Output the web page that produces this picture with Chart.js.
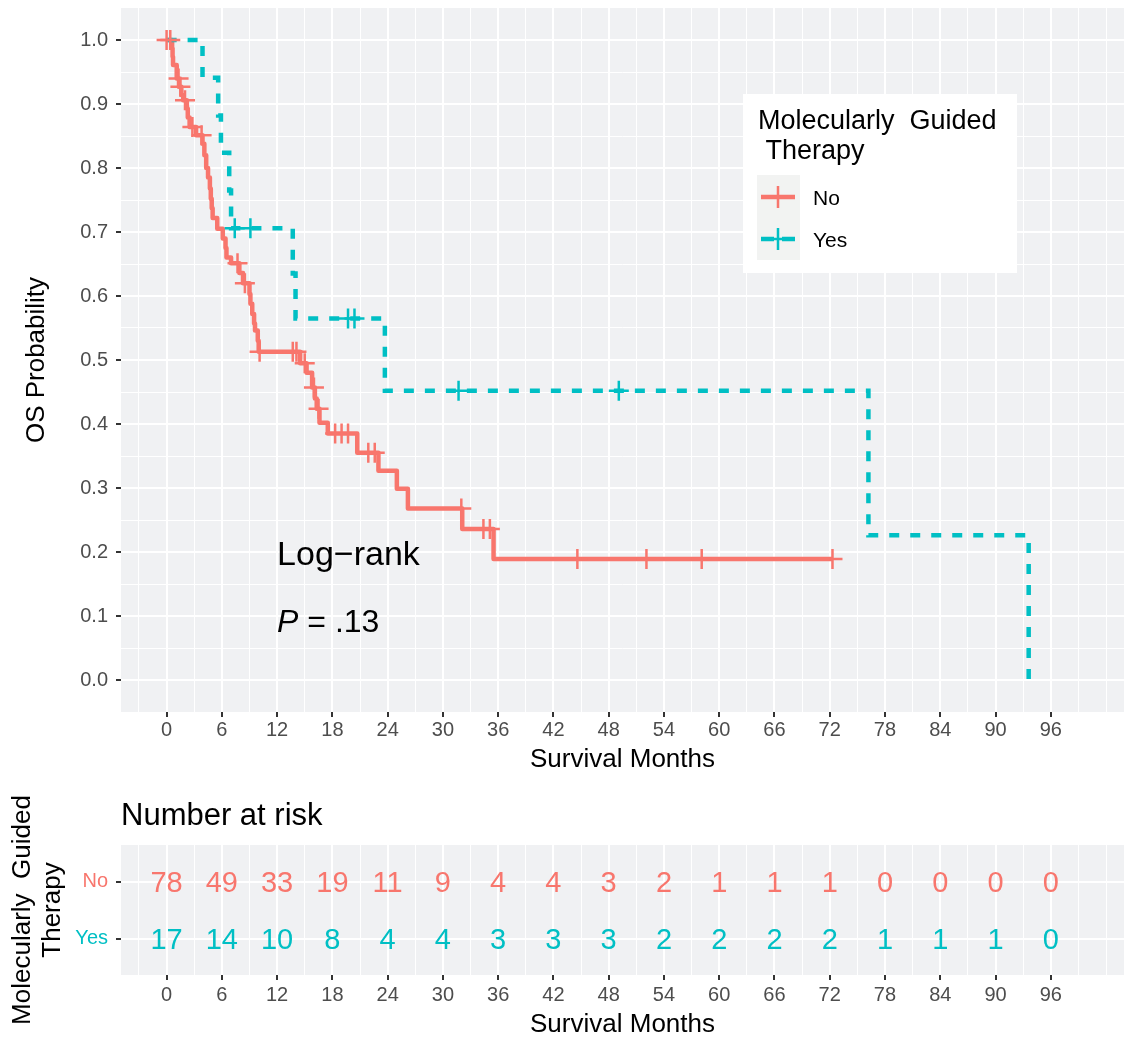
<!DOCTYPE html>
<html>
<head>
<meta charset="utf-8">
<script src="https://cdn.jsdelivr.net/npm/chart.js@4.4.1/dist/chart.umd.min.js"></script>
<style>
  html, body { margin: 0; padding: 0; background: #fff; }
  #wrap { position: relative; width: 1126px; height: 1038px; }
  canvas { position: absolute; left: 0; }
  #kmChart { top: 0; }
  #riskChart { top: 790px; }
</style>
</head>
<body>
<div id="wrap">
  <canvas id="kmChart" width="1126" height="790"></canvas>
  <canvas id="riskChart" width="1126" height="248"></canvas>
</div>
<script>
// Groups
const groupLabels = ['No', 'Yes'];
const groupColors = ['#F8766D', '#00BFC4'];

// KM steps, group "No" (time in months, survival after the step)
const noTimes = [0, 0.6, 0.65, 0.7, 1.1, 1.35, 1.6, 1.8, 2.2, 2.3, 2.5, 3.2, 3.9, 4.1, 4.3, 4.5, 4.7, 4.8, 4.9, 5.0, 5.5,
  6.1, 6.4, 6.5, 7.0, 7.9, 8.3, 9.0, 9.1, 9.3, 9.5, 9.6, 9.9, 10.0, 14.5, 15.2, 15.8, 16.1, 16.3, 16.6, 17.5,
  20.7, 23.0, 25.0, 26.2, 32.1, 35.5, 72.3];
const noSurv = [1.0, 0.987, 0.974, 0.961, 0.94, 0.927, 0.914, 0.906, 0.893, 0.879, 0.864, 0.851, 0.838, 0.82, 0.80, 0.785, 0.768, 0.752, 0.737, 0.722, 0.705,
  0.69, 0.675, 0.66, 0.651, 0.636, 0.62, 0.603, 0.588, 0.572, 0.557, 0.546, 0.53, 0.513, 0.495, 0.48, 0.457, 0.44, 0.424, 0.402, 0.385,
  0.355, 0.327, 0.299, 0.268, 0.236, 0.189, 0.189];
const noCensorTimes = [0.0, 0.4, 1.3, 1.5, 2.0, 2.8, 3.8, 7.7, 8.5, 10.1, 13.7, 14.1, 15.0, 16.0, 16.5, 18.3, 19.0, 19.7,
  21.9, 22.6, 32.0, 34.4, 35.1, 44.6, 52.1, 58.1, 72.3];
const noCensorSurv = [1.0, 1.0, 0.94, 0.927, 0.906, 0.864, 0.851, 0.651, 0.62, 0.513, 0.513, 0.513, 0.495, 0.457, 0.424, 0.385, 0.385, 0.385,
  0.355, 0.355, 0.268, 0.236, 0.236, 0.189, 0.189, 0.189, 0.189];

// KM steps, group "Yes"
const yesTimes = [0, 3.9, 5.6, 5.9, 6.8, 7.0, 13.7, 14.0, 23.7, 76.2, 93.6];
const yesSurv = [1.0, 0.941, 0.882, 0.824, 0.765, 0.706, 0.635, 0.565, 0.452, 0.226, 0.0];
const yesCensorTimes = [7.4, 9.1, 19.7, 20.4, 31.7, 49.1];
const yesCensorSurv = [0.706, 0.706, 0.565, 0.565, 0.452, 0.452];

// Axes
const xTicks = [0, 6, 12, 18, 24, 30, 36, 42, 48, 54, 60, 66, 72, 78, 84, 90, 96];
const yTicks = [0, 0.1, 0.2, 0.3, 0.4, 0.5, 0.6, 0.7, 0.8, 0.9, 1.0];

// Number at risk table
const riskTimes = [0, 6, 12, 18, 24, 30, 36, 42, 48, 54, 60, 66, 72, 78, 84, 90, 96];
const riskNo = [78, 49, 33, 19, 11, 9, 4, 4, 3, 2, 1, 1, 1, 0, 0, 0, 0];
const riskYes = [17, 14, 10, 8, 4, 4, 3, 3, 3, 2, 2, 2, 2, 1, 1, 1, 0];

Chart.defaults.font.family = '"Liberation Sans", Arial, Helvetica, sans-serif';
const FONT = '"Liberation Sans", Arial, Helvetica, sans-serif';
const PANEL = '#F0F1F3';
const TICK_TEXT = '#4D4D4D';
const TICK_MARK = '#333333';

// grid values: majors + ggplot-style minor breaks in between
const xGrid = [-3].concat(...xTicks.map(v => [v, v + 3]), [102]);
const yGrid = [];
yTicks.forEach((v, i) => { yGrid.push(v); if (i < yTicks.length - 1) yGrid.push(Math.round((v + 0.05) * 100) / 100); });
const isMajorX = v => xTicks.includes(v);
const isMajorY = v => yTicks.some(t => Math.abs(t - v) < 1e-9);

const pts = (xs, ys) => xs.map((x, i) => ({ x: x, y: ys[i] }));

// fixed axis box size, no extra label padding around the panel
function fixBox(s, w, h) {
    if (w !== null) s.width = w;
    if (h !== null) s.height = h;
    s.paddingTop = 0;
    s.paddingBottom = 0;
    s.paddingLeft = 0;
    s.paddingRight = 0;
}

const panelBg = {
    id: 'panelBg',
    beforeDraw(chart) {
        const a = chart.chartArea;
        const ctx = chart.ctx;
        ctx.save();
        ctx.fillStyle = PANEL;
        ctx.fillRect(a.left, a.top, a.right - a.left, a.bottom - a.top);
        ctx.restore();
    }
};

function xScaleOpts(height, tickPad, titlePadBottom) {
    return {
        type: 'linear',
        min: -4.95,
        max: 103.95,
        afterBuildTicks: s => { s.ticks = xGrid.map(v => ({ value: v })); },
        afterFit: s => fixBox(s, null, height),
        ticks: {
            autoSkip: false, maxRotation: 0, minRotation: 0, padding: tickPad,
            color: TICK_TEXT, font: { size: 20 },
            callback: v => isMajorX(v) ? String(v) : ''
        },
        grid: {
            color: '#FFFFFF',
            lineWidth: c => isMajorX(c.tick.value) ? 2 : 1,
            tickLength: 5,
            tickWidth: 2,
            tickColor: c => isMajorX(c.tick.value) ? TICK_MARK : 'rgba(0,0,0,0)'
        },
        border: { display: false },
        title: {
            display: true, text: 'Survival Months', color: '#000',
            font: { size: 26, lineHeight: 1 }, padding: { top: 0, bottom: titlePadBottom }
        }
    };
}

// Legend and annotation text for the survival panel
const kmDecor = {
    id: 'kmDecor',
    afterDraw(chart) {
        const ctx = chart.ctx;
        const xs = chart.scales.x, ys = chart.scales.y;
        ctx.save();

        // log-rank annotation
        ctx.fillStyle = '#000';
        ctx.textAlign = 'left';
        ctx.textBaseline = 'alphabetic';
        const ax = xs.getPixelForValue(12);
        ctx.font = '34px ' + FONT;
        ctx.fillText('Log\u2212rank', ax, ys.getPixelForValue(0.18));
        const py = ys.getPixelForValue(0.075);
        ctx.font = 'italic 32px ' + FONT;
        ctx.fillText('P', ax, py);
        const pw = ctx.measureText('P').width;
        ctx.font = '32px ' + FONT;
        ctx.fillText(' = .13', ax + pw, py);

        // legend box
        ctx.fillStyle = '#FFFFFF';
        ctx.fillRect(743, 94, 274, 179);
        ctx.fillStyle = '#000';
        ctx.font = '27px ' + FONT;
        ctx.fillText('Molecularly  Guided', 758, 129);
        ctx.fillText(' Therapy', 758, 159);
        ctx.fillStyle = '#F2F3F2';
        ctx.fillRect(757, 175, 43, 85);

        const keyY = [197, 239];
        keyY.forEach((y, i) => {
            ctx.strokeStyle = groupColors[i];
            ctx.lineWidth = 4.5;
            ctx.setLineDash(i === 1 ? [13, 8] : []);
            ctx.beginPath();
            ctx.moveTo(761, y);
            ctx.lineTo(795, y);
            ctx.stroke();
            ctx.setLineDash([]);
            ctx.lineWidth = 2.5;
            ctx.beginPath();
            ctx.moveTo(778, y - 11);
            ctx.lineTo(778, y + 11);
            ctx.moveTo(768, y);
            ctx.lineTo(788, y);
            ctx.stroke();
        });
        ctx.fillStyle = '#000';
        ctx.font = '21px ' + FONT;
        ctx.fillText(groupLabels[0], 813, 205);
        ctx.fillText(groupLabels[1], 813, 247);
        ctx.restore();
    }
};

new Chart(document.getElementById('kmChart'), {
    type: 'scatter',
    data: {
        datasets: [
            {
                label: 'No', data: pts(noTimes, noSurv), showLine: true, stepped: true,
                borderColor: groupColors[0], borderWidth: 4.5, pointRadius: 0, borderJoinStyle: 'round', order: 4
            },
            {
                label: 'Yes', data: pts(yesTimes, yesSurv), showLine: true, stepped: true,
                borderColor: groupColors[1], borderWidth: 4.5, pointRadius: 0, borderDash: [10, 11], order: 3
            },
            {
                label: 'No censored', data: pts(noCensorTimes, noCensorSurv), showLine: false,
                pointStyle: 'cross', pointRadius: 10, pointBorderColor: groupColors[0], pointBorderWidth: 2.5,
                pointHoverRadius: 10, order: 2
            },
            {
                label: 'Yes censored', data: pts(yesCensorTimes, yesCensorSurv), showLine: false,
                pointStyle: 'cross', pointRadius: 10, pointBorderColor: groupColors[1], pointBorderWidth: 2.5,
                pointHoverRadius: 10, order: 1
            }
        ]
    },
    options: {
        responsive: false,
        animation: false,
        layout: { autoPadding: false, padding: { top: 8, right: 2, left: 0, bottom: 0 } },
        plugins: { legend: { display: false }, tooltip: { enabled: false } },
        scales: {
            x: xScaleOpts(78, 1, 17),
            y: {
                type: 'linear',
                min: -0.05,
                max: 1.05,
                afterBuildTicks: s => { s.ticks = yGrid.map(v => ({ value: v })); },
                afterFit: s => fixBox(s, 121, null),
                ticks: {
                    autoSkip: false, padding: 8, color: TICK_TEXT, font: { size: 20 },
                    callback: v => isMajorY(v) ? v.toFixed(1) : ''
                },
                grid: {
                    color: '#FFFFFF',
                    lineWidth: c => isMajorY(c.tick.value) ? 2 : 1,
                    tickLength: 5,
                    tickWidth: 2,
                    tickColor: c => isMajorY(c.tick.value) ? TICK_MARK : 'rgba(0,0,0,0)'
                },
                border: { display: false },
                title: {
                    display: true, text: 'OS Probability', color: '#000',
                    font: { size: 26, lineHeight: 1 }, padding: { top: 24, bottom: 0 }
                }
            }
        }
    },
    plugins: [panelBg, kmDecor]
});

// Number at risk table
const riskDecor = {
    id: 'riskDecor',
    afterDatasetsDraw(chart) {
        const ctx = chart.ctx;
        ctx.save();
        ctx.fillStyle = '#000';
        ctx.font = '31px ' + FONT;
        ctx.textAlign = 'left';
        ctx.textBaseline = 'alphabetic';
        ctx.fillText('Number at risk', chart.chartArea.left, 35);

        ctx.font = '29px ' + FONT;
        ctx.textAlign = 'center';
        chart.data.datasets.forEach((ds, di) => {
            const meta = chart.getDatasetMeta(di);
            ctx.fillStyle = groupColors[di];
            meta.data.forEach((pt, i) => {
                ctx.fillText(String(ds.counts[i]), pt.x, pt.y + 0.358 * 29);
            });
        });
        ctx.restore();
    }
};

new Chart(document.getElementById('riskChart'), {
    type: 'scatter',
    data: {
        datasets: [
            { label: 'No', counts: riskNo, data: riskTimes.map(t => ({ x: t, y: 1 })), pointRadius: 0, pointHoverRadius: 0 },
            { label: 'Yes', counts: riskYes, data: riskTimes.map(t => ({ x: t, y: 2 })), pointRadius: 0, pointHoverRadius: 0 }
        ]
    },
    options: {
        responsive: false,
        animation: false,
        layout: { autoPadding: false, padding: { top: 55, right: 2, left: 0, bottom: 0 } },
        plugins: { legend: { display: false }, tooltip: { enabled: false } },
        scales: {
            x: xScaleOpts(63, 3, 0),
            y: {
                type: 'linear',
                min: 0.35,
                max: 2.64,
                reverse: true,
                afterBuildTicks: s => { s.ticks = [1, 2].map(v => ({ value: v })); },
                afterFit: s => fixBox(s, 121, null),
                ticks: {
                    autoSkip: false, padding: 8, font: { size: 20 },
                    color: c => groupColors[c.index],
                    callback: v => groupLabels[v - 1]
                },
                grid: { color: '#FFFFFF', lineWidth: 2, tickLength: 5, tickWidth: 2, tickColor: TICK_MARK },
                border: { display: false },
                title: {
                    display: true, text: ['Molecularly  Guided', 'Therapy'], color: '#000',
                    font: { size: 26, lineHeight: 30 / 26 }, padding: { top: 8, bottom: 0 }
                }
            }
        }
    },
    plugins: [panelBg, riskDecor]
});
</script>
</body>
</html>
